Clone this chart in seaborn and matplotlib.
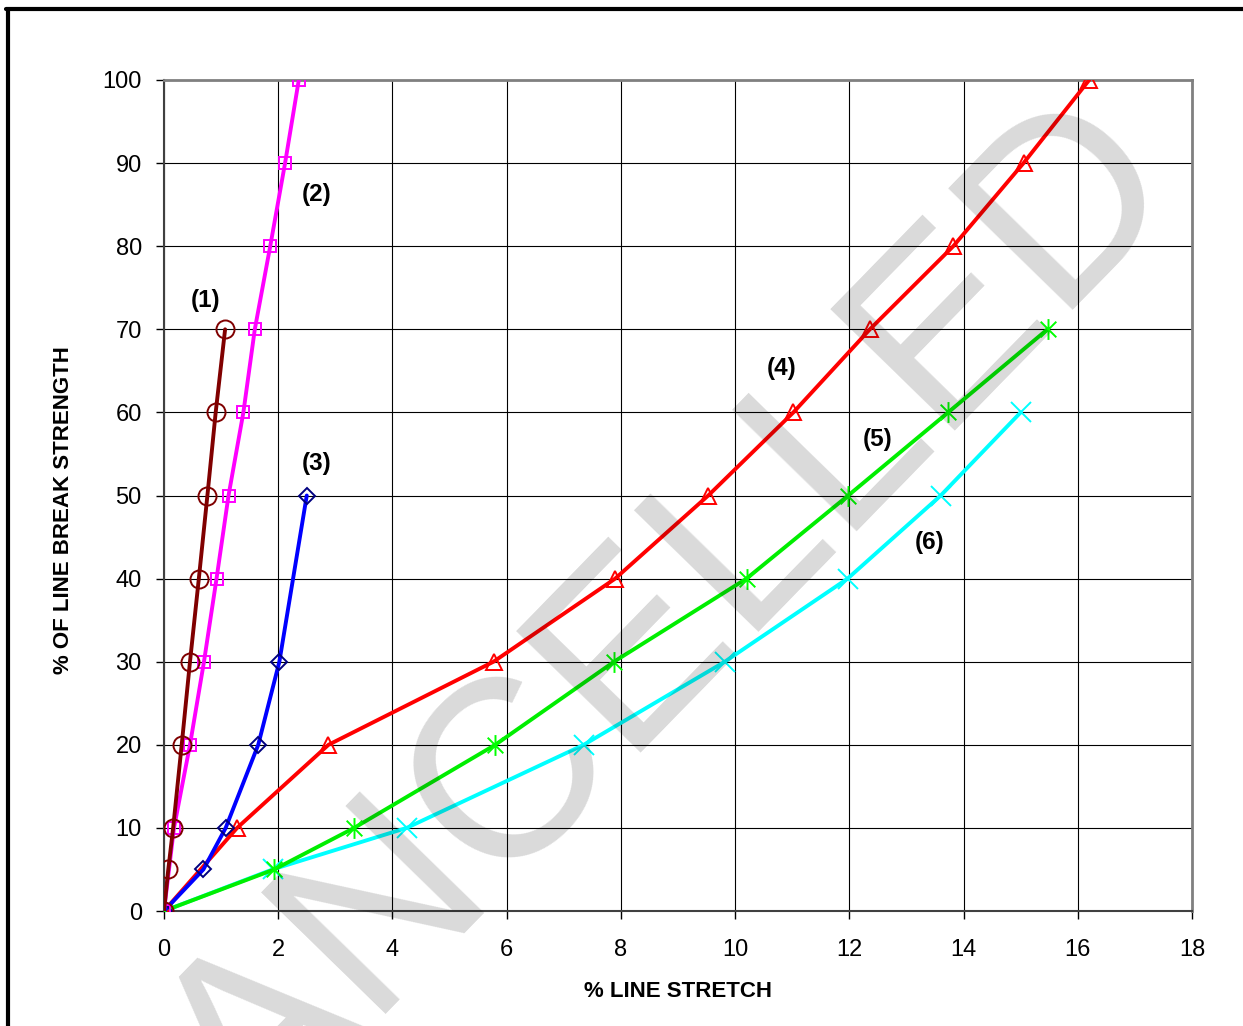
import numpy as np
import matplotlib
matplotlib.use("Agg")
import matplotlib.pyplot as plt
from matplotlib.path import Path
from matplotlib.lines import Line2D
import seaborn as sns

# ---- data ----
s1_x = [0, 0.075, 0.16, 0.31, 0.455, 0.61, 0.76, 0.905, 1.07]
s1_y = [0, 5, 10, 20, 30, 40, 50, 60, 70]

s2_x = [0, 0.175, 0.455, 0.70, 0.92, 1.13, 1.39, 1.59, 1.86, 2.12, 2.36]
s2_y = [0, 10, 20, 30, 40, 50, 60, 70, 80, 90, 100]

s3_x = [0, 0.69, 1.08, 1.65, 2.02, 2.50]
s3_y = [0, 5, 10, 20, 30, 50]

s4_x = [0, 1.28, 2.88, 5.77, 7.90, 9.53, 11.02, 12.36, 13.82, 15.05, 16.20]
s4_y = [0, 10, 20, 30, 40, 50, 60, 70, 80, 90, 100]

s5_x = [0, 1.93, 3.33, 5.80, 7.88, 10.20, 11.98, 13.73, 15.47]
s5_y = [0, 5, 10, 20, 30, 40, 50, 60, 70]

s6_x = [0, 1.90, 4.25, 7.35, 9.82, 11.97, 13.60, 15.00]
s6_y = [0, 5, 10, 20, 30, 40, 50, 60]

label_text = ["(1)", "(2)", "(3)", "(4)", "(5)", "(6)"]
label_x = [0.72, 2.68, 2.68, 10.82, 12.50, 13.41]
label_y = [73.5, 86.2, 53.9, 65.3, 56.7, 44.3]

x_ticks = list(range(0, 19, 2))
y_ticks = list(range(0, 101, 10))

# ---- style ----
sns.set_theme(style="white")
plt.rcParams["font.family"] = ["Liberation Sans", "DejaVu Sans"]
plt.rcParams["text.color"] = "black"
plt.rcParams["axes.labelcolor"] = "black"
plt.rcParams["xtick.color"] = "black"
plt.rcParams["ytick.color"] = "black"

fig = plt.figure(figsize=(12.43, 10.26), dpi=100)
ax = fig.add_axes([164 / 1243, 1 - 911 / 1026, (1192 - 164) / 1243, (911 - 80) / 1026])

# asterisk marker (vertical bar + X)
ast = Path([(0, -1), (0, 1), (-0.75, -0.75), (0.75, 0.75), (-0.75, 0.75), (0.75, -0.75)],
           [Path.MOVETO, Path.LINETO, Path.MOVETO, Path.LINETO, Path.MOVETO, Path.LINETO])

lw = 2.8
sns.lineplot(x=s6_x, y=s6_y, ax=ax, sort=False, estimator=None, color="#00FFFF", lw=lw,
             marker="x", markersize=14, markeredgecolor="#00FFFF", markeredgewidth=1.4, zorder=3)
sns.lineplot(x=s5_x, y=s5_y, ax=ax, sort=False, estimator=None, color="#00EE00", lw=lw,
             marker=ast, markersize=15, markeredgecolor="#00FF00", markerfacecolor="none",
             markeredgewidth=1.4, zorder=3)
sns.lineplot(x=s4_x, y=s4_y, ax=ax, sort=False, estimator=None, color="#FF0000", lw=lw,
             marker="^", markersize=12, markeredgecolor="#FF0000", markerfacecolor="none",
             markeredgewidth=1.4, zorder=4)
sns.lineplot(x=s3_x, y=s3_y, ax=ax, sort=False, estimator=None, color="#0000FF", lw=lw,
             marker="D", markersize=8.5, markeredgecolor="#000080", markerfacecolor="none",
             markeredgewidth=1.4, zorder=4)
sns.lineplot(x=s2_x, y=s2_y, ax=ax, sort=False, estimator=None, color="#FF00FF", lw=lw,
             marker="s", markersize=9, markeredgecolor="#FF00FF", markerfacecolor="none",
             markeredgewidth=1.4, zorder=5)
sns.lineplot(x=s1_x, y=s1_y, ax=ax, sort=False, estimator=None, color="#800000", lw=lw,
             marker="o", markersize=13, markeredgecolor="#800000", markerfacecolor="none",
             markeredgewidth=1.4, zorder=6)

for t, lx, ly in zip(label_text, label_x, label_y):
    ax.text(lx, ly, t, fontsize=17.5, fontweight="bold", color="black",
            ha="center", va="center", zorder=7)

ax.set_xlim(0, 18)
ax.set_ylim(0, 100)
ax.set_xticks(x_ticks)
ax.set_yticks(y_ticks)
ax.grid(True, color="black", linewidth=0.8, zorder=0)
ax.set_axisbelow(True)
ax.tick_params(axis="both", direction="out", length=6, width=1, color="black",
               labelsize=17, labelcolor="black")
ax.tick_params(axis="y", pad=10)
ax.tick_params(axis="x", pad=14)
ax.xaxis.set_ticks_position("bottom")
ax.yaxis.set_ticks_position("left")
for side in ["top", "right"]:
    ax.spines[side].set_color("#808080")
    ax.spines[side].set_linewidth(2)
for side in ["left", "bottom"]:
    ax.spines[side].set_color("#404040")
    ax.spines[side].set_linewidth(1.5)

ax.set_xlabel("% LINE STRETCH", fontsize=16, fontweight="bold", color="black")
ax.set_ylabel("% OF LINE BREAK STRENGTH", fontsize=16, fontweight="bold", color="black")
ax.xaxis.set_label_coords((678 - 164) / 1028, -(981 - 911) / 831)
ax.yaxis.set_label_coords(-(164 - 74) / 1028, (911 - 510) / 831)

# figure frame (top & left)
fig.add_artist(Line2D([6 / 1243, 1], [1 - 9 / 1026, 1 - 9 / 1026], color="black", lw=3, transform=fig.transFigure))
fig.add_artist(Line2D([7.5 / 1243, 7.5 / 1243], [0, 1 - 9 / 1026], color="black", lw=3, transform=fig.transFigure))

# watermark
fig.text(606 / 1243, 1 - 682 / 1026, "CANCELLED", fontsize=182, color="black", alpha=0.15,
         rotation=45.7, ha="center", va="center", rotation_mode="anchor", zorder=10)

fig.savefig("out.png", dpi=100)
